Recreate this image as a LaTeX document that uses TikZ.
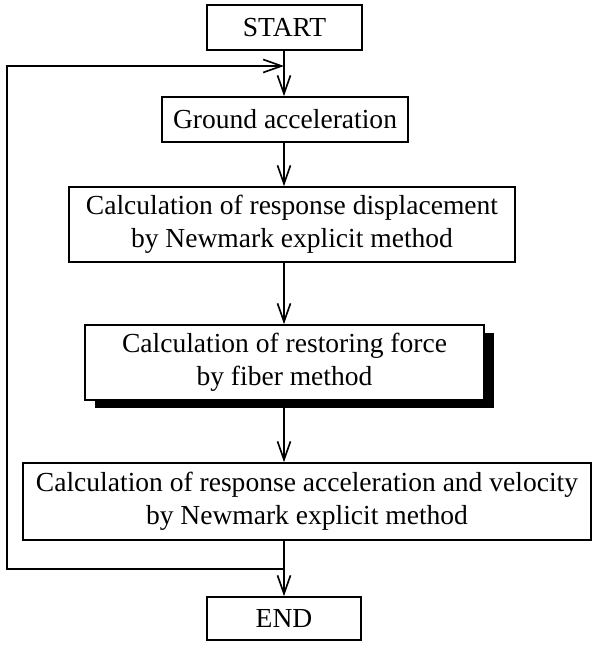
\documentclass[tikz,border=0pt]{standalone}
\usepackage{fontspec}
\setmainfont{Liberation Serif}
\usetikzlibrary{arrows.meta, positioning, shadows}
\tikzset{
  box/.style={
    rectangle,
    draw,
    fill=white,
    align=center,
    line width=1.4pt,
    inner sep=0pt,
    font=\fontsize{23.5}{27.8}\selectfont
  },
  shadowbox/.style={
    box,
    drop shadow={shadow xshift=0.3cm, shadow yshift=-0.24cm, fill=black, opacity=1}
  },
  arrow/.style={-{Straight Barb[length=5.5mm, width=3.9mm]}, line width=1.4pt}
}

\begin{document}
\begin{tikzpicture}[x=0.03cm,y=-0.03cm]
\useasboundingbox (0,0) rectangle (597,656);
\node[box, minimum width=4.65cm, minimum height=1.35cm] (start) at (284.5,27.5) {START};
\node[box, minimum width=7.38cm, minimum height=1.35cm] (ground) at (285,119.5) {Ground acceleration};
\node[box, minimum width=13.38cm, minimum height=2.25cm] (disp) at (292,224.5) {Calculation of response displacement\\by Newmark explicit method};
\node[shadowbox, minimum width=11.97cm, minimum height=2.25cm] (force) at (284.5,362.5) {Calculation of restoring force\\by fiber method};
\node[box, minimum width=17.04cm, minimum height=2.31cm] (accel) at (307,501.5) {Calculation of response acceleration and velocity\\by Newmark explicit method};
\node[box, minimum width=4.62cm, minimum height=1.29cm] (end) at (284,618.5) {END};

\coordinate (spine) at (284,0);
\coordinate (back) at (284,569);
\coordinate (bl) at (7,569);
\coordinate (tl) at (7,66);
\coordinate (join) at (284,66);

\draw[arrow] (start.south -| spine) -- (ground.north -| spine);
\draw[arrow] (ground.south -| spine) -- (disp.north -| spine);
\draw[arrow] (disp.south -| spine) -- (force.north -| spine);
\draw[arrow] (force.south -| spine) -- (accel.north -| spine);
\draw[arrow] (accel.south -| spine) -- (end.north -| spine);
\draw[arrow] (back) -- (bl) -- (tl) -- (join);
\end{tikzpicture}
\end{document}
